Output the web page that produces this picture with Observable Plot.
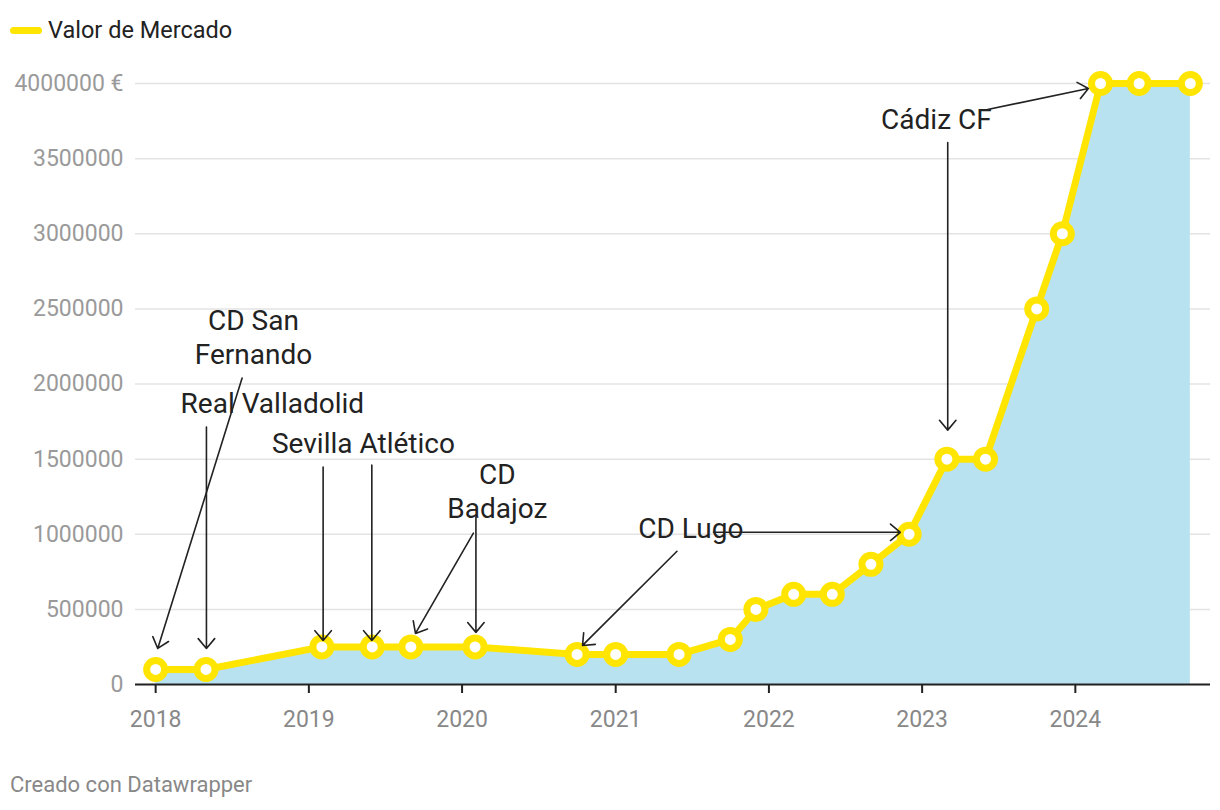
<!DOCTYPE html>
<html>
<head>
<meta charset="utf-8">
<script src="https://cdn.jsdelivr.net/npm/d3@7"></script>
<script src="https://cdn.jsdelivr.net/npm/@observablehq/plot@0.6"></script>
<style>
  body { margin: 0; background: #fff; font-family: Roboto, sans-serif; width: 1220px; height: 810px; position: relative; overflow: hidden; }
  #legend { position: absolute; left: 10px; top: 16px; height: 28px; display: flex; align-items: center; font-size: 23.5px; color: #222; }
  #legend .swatch { width: 32px; height: 7px; border-radius: 4px; background: #ffe500; margin-right: 6px; }
  #chart { position: absolute; left: 0; top: 55px; }
  #caption { position: absolute; left: 10px; top: 772px; font-size: 22px; color: #888; }
</style>
</head>
<body>
<div id="legend"><span class="swatch"></span><span>Valor de Mercado</span></div>
<div id="chart"></div>
<div id="caption">Creado con Datawrapper</div>
<script>
// ---- Data ----
const dates = ["2018-01-01","2018-05-01","2019-02-01","2019-06-01","2019-09-01","2020-02-01","2020-10-01","2021-01-01","2021-06-01","2021-10-01","2021-12-01","2022-03-01","2022-06-01","2022-09-01","2022-12-01","2023-03-01","2023-06-01","2023-10-01","2023-12-01","2024-03-01","2024-06-01","2024-10-01"];
const values = [100000,100000,250000,250000,250000,250000,200000,200000,200000,300000,500000,600000,600000,800000,1000000,1500000,1500000,2500000,3000000,4000000,4000000,4000000];

const yTicks = [0,500000,1000000,1500000,2000000,2500000,3000000,3500000,4000000];
const yTickLabels = ["0","500000","1000000","1500000","2000000","2500000","3000000","3500000","4000000 €"];

// annotation labels
const labelText = ["CD San\nFernando","Real Valladolid","Sevilla Atlético","CD\nBadajoz","CD Lugo","Cádiz CF"];
const labelDate = ["2018-08-22","2018-10-06","2019-05-11","2020-03-25","2021-06-29","2023-02-04"];
const labelValue = [2320000,1880000,1613000,1293000,1047000,3767000];

// annotation arrows
const arrowDate1 = ["2018-07-26","2018-05-02","2019-02-04","2019-05-31","2020-01-28","2020-02-03","2021-05-27","2021-08-22","2023-03-03","2023-06-06"];
const arrowValue1 = [2040000,1713000,1447000,1460000,1007000,1113000,887000,1013000,3607000,3827000];
const arrowDate2 = ["2018-01-06","2018-05-02","2019-02-04","2019-05-31","2019-09-12","2020-02-03","2020-10-14","2022-11-10","2023-03-03","2024-02-01"];
const arrowValue2 = [240000,240000,293000,293000,340000,347000,260000,1013000,1693000,3967000];

// ---- Build tables ----
const series = dates.map((d, i) => ({date: new Date(d), value: values[i]}));
const labels = labelText.map((t, i) => ({text: t, date: new Date(labelDate[i]), value: labelValue[i]}));
const arrows = arrowDate1.map((d, i) => ({x1: new Date(d), y1: arrowValue1[i], x2: new Date(arrowDate2[i]), y2: arrowValue2[i]}));

const yellow = "#ffe500";

const chart = Plot.plot({
  width: 1220,
  height: 690,
  marginLeft: 135,
  marginRight: 10,
  marginTop: 28,
  marginBottom: 61,
  style: {fontFamily: "Roboto, sans-serif", background: "#fff"},
  x: {
    type: "utc",
    domain: [new Date("2017-11-14"), new Date("2024-11-18")],
    ticks: d3.utcYear.every(1),
    tickFormat: "%Y",
    label: null
  },
  y: {
    domain: [0, 4000000],
    ticks: yTicks,
    label: null
  },
  marks: [
    Plot.gridY(yTicks, {stroke: "#e3e3e3", strokeOpacity: 1, strokeWidth: 1.5}),
    Plot.axisY(yTicks, {tickSize: 0, tickPadding: 12, fontSize: 23, fill: "#9a9a9a",
      tickFormat: (d) => yTickLabels[yTicks.indexOf(d)]}),
    Plot.areaY(series, {x: "date", y: "value", fill: "#b9e2f0", fillOpacity: 1}),
    Plot.ruleY([0], {stroke: "#222", strokeWidth: 2}),
    Plot.axisX({ticks: d3.utcYear.every(1), tickFormat: "%Y", tickSize: 9, tickPadding: 17, fontSize: 23, fill: "#888", stroke: "#222", strokeWidth: 2}),
    Plot.lineY(series, {x: "date", y: "value", stroke: yellow, strokeWidth: 7, strokeLinejoin: "round"}),
    Plot.dot(series, {x: "date", y: "value", r: 9, fill: "#fff", stroke: yellow, strokeWidth: 7}),
    Plot.arrow(arrows, {x1: "x1", y1: "y1", x2: "x2", y2: "y2", stroke: "#222", strokeWidth: 1.6, headLength: 12, headAngle: 80}),
    Plot.text(labels, {x: "date", y: "value", text: "text", fontSize: 28, fill: "#222", lineHeight: 1.21, textAnchor: "middle"})
  ]
});
document.getElementById("chart").appendChild(chart);
</script>
</body>
</html>
